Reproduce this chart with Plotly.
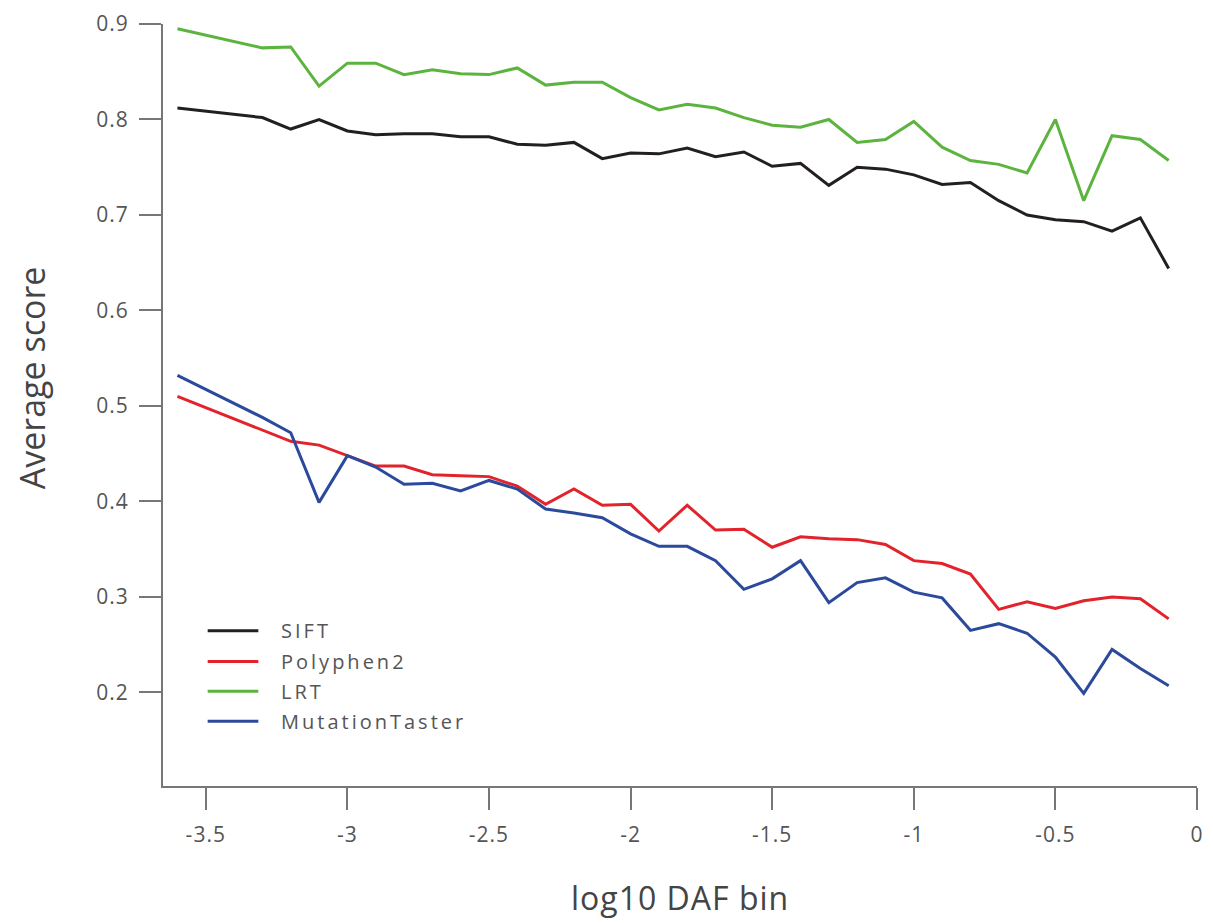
import plotly.graph_objects as go

# log10 DAF bin centres (bins -3.5 and -3.4 are empty)
daf_bins = [-3.6, -3.3, -3.2, -3.1, -3.0, -2.9, -2.8, -2.7, -2.6, -2.5, -2.4, -2.3,
            -2.2, -2.1, -2.0, -1.9, -1.8, -1.7, -1.6, -1.5, -1.4, -1.3, -1.2, -1.1,
            -1.0, -0.9, -0.8, -0.7, -0.6, -0.5, -0.4, -0.3, -0.2, -0.1]

sift = [0.812, 0.802, 0.790, 0.800, 0.788, 0.784, 0.785, 0.785, 0.782, 0.782, 0.774, 0.773,
        0.776, 0.759, 0.765, 0.764, 0.770, 0.761, 0.766, 0.751, 0.754, 0.731, 0.750, 0.748,
        0.742, 0.732, 0.734, 0.715, 0.700, 0.695, 0.693, 0.683, 0.697, 0.644]

polyphen2 = [0.510, 0.475, 0.463, 0.459, 0.448, 0.437, 0.437, 0.428, 0.427, 0.426, 0.416, 0.397,
             0.413, 0.396, 0.397, 0.369, 0.396, 0.370, 0.371, 0.352, 0.363, 0.361, 0.360, 0.355,
             0.338, 0.335, 0.324, 0.287, 0.295, 0.288, 0.296, 0.300, 0.298, 0.277]

lrt = [0.895, 0.875, 0.876, 0.835, 0.859, 0.859, 0.847, 0.852, 0.848, 0.847, 0.854, 0.836,
       0.839, 0.839, 0.823, 0.810, 0.816, 0.812, 0.802, 0.794, 0.792, 0.800, 0.776, 0.779,
       0.798, 0.771, 0.757, 0.753, 0.744, 0.800, 0.715, 0.783, 0.779, 0.757]

mutation_taster = [0.532, 0.488, 0.472, 0.399, 0.448, 0.436, 0.418, 0.419, 0.411, 0.422, 0.413, 0.392,
                   0.388, 0.383, 0.366, 0.353, 0.353, 0.338, 0.308, 0.319, 0.338, 0.294, 0.315, 0.320,
                   0.305, 0.299, 0.265, 0.272, 0.262, 0.237, 0.199, 0.245, 0.225, 0.207]

series_names = ["SIFT", "Polyphen2", "LRT", "MutationTaster"]
series_values = [sift, polyphen2, lrt, mutation_taster]
series_colors = ["#231f20", "#e3232b", "#5cb43f", "#2c4a9c"]

x_ticks = [-3.5, -3, -2.5, -2, -1.5, -1, -0.5, 0]
x_tick_labels = ["-3.5", "-3", "-2.5", "-2", "-1.5", "-1", "-0.5", "0"]
y_ticks = [0.2, 0.3, 0.4, 0.5, 0.6, 0.7, 0.8, 0.9]
y_tick_labels = ["0.2", "0.3", "0.4", "0.5", "0.6", "0.7", "0.8", "0.9"]

FONT = "Open Sans"
AXIS_GREY = "#777777"
TEXT_GREY = "#555555"


def spaced(text, px):
    return f'<span style="letter-spacing:{px}px">{text}</span>'


fig = go.Figure()
for name, vals, col in zip(series_names, series_values, series_colors):
    fig.add_trace(go.Scatter(x=daf_bins, y=vals, mode="lines", name=name,
                             line=dict(color=col, width=3), showlegend=False))

axis_common = dict(showgrid=False, zeroline=False, showline=True, linecolor=AXIS_GREY,
                   linewidth=2, ticks="outside", ticklen=22, tickwidth=2, tickcolor=AXIS_GREY,
                   tickfont=dict(family=FONT, size=21, color=TEXT_GREY))

fig.update_layout(
    width=1213, height=923,
    margin=dict(l=163, r=9, t=21, b=137),
    paper_bgcolor="white", plot_bgcolor="white",
    xaxis=dict(range=[-3.651, 0], tickvals=x_ticks,
               ticktext=[spaced(t, 1) for t in x_tick_labels],
               ticklabelstandoff=7, **axis_common),
    yaxis=dict(range=[0.102, 0.9], tickvals=y_ticks,
               ticktext=[spaced(t, 1) for t in y_tick_labels],
               ticklabelstandoff=6, **axis_common),
)

# axis titles
fig.add_annotation(text=spaced("log10 DAF bin", 1), xref="paper", yref="paper", x=0.5, y=-0.146,
                   showarrow=False, xanchor="center", yanchor="middle",
                   font=dict(family=FONT, size=32, color="#444444"))
fig.add_annotation(text="Average score", xref="paper", yref="paper", x=-0.127, y=0.536,
                   showarrow=False, xanchor="center", yanchor="middle", textangle=-90,
                   font=dict(family=FONT, size=34, color="#444444"))

# legend drawn as line samples with labels
legend_rows = [0.2039, 0.1634, 0.1242, 0.0850]
for name, col, yy in zip(series_names, series_colors, legend_rows):
    fig.add_shape(type="line", xref="paper", yref="paper", x0=0.0432, x1=0.0922,
                  y0=yy, y1=yy, line=dict(color=col, width=3))
    fig.add_annotation(text=spaced(name, 3), xref="paper", yref="paper", x=0.1124, y=yy,
                       showarrow=False, xanchor="left", yanchor="middle",
                       font=dict(family=FONT, size=20, color=TEXT_GREY))

fig.write_html("out.html")
